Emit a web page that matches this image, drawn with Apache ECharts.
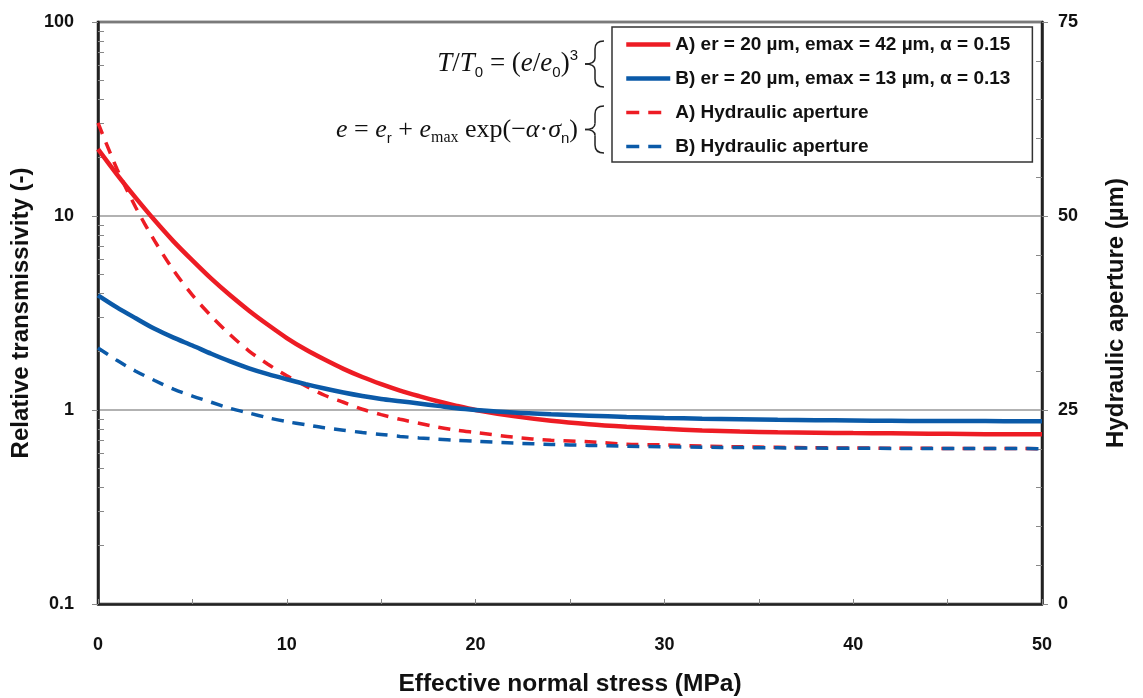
<!DOCTYPE html>
<html>
<head>
<meta charset="utf-8">
<script src="https://cdn.jsdelivr.net/npm/echarts@6/dist/echarts.min.js"></script>
<style>
html,body{margin:0;padding:0;background:#fff;}
#chart{width:1143px;height:698px;}
</style>
</head>
<body>
<div id="chart"></div>
<script>
// Effective normal stress (MPa)
const stress = [0,1,2,3,4,5,6,7,8,9,10,11,12,13,14,15,16,17,18,19,20,22,24,26,28,30,32,34,36,38,40,42,44,46,48,50];
// Relative transmissivity (-), left log axis
const transA = [22.1,16.4,12.4,9.5,7.4,5.9,4.75,3.9,3.25,2.75,2.35,2.05,1.82,1.63,1.48,1.36,1.26,1.18,1.11,1.05,1.0,0.93,0.88,0.845,0.82,0.80,0.785,0.775,0.768,0.764,0.76,0.758,0.755,0.752,0.75,0.75];
const transB = [3.9,3.38,2.97,2.62,2.36,2.15,1.95,1.78,1.64,1.53,1.44,1.36,1.29,1.23,1.18,1.14,1.11,1.08,1.05,1.02,1.0,0.97,0.95,0.935,0.92,0.91,0.902,0.896,0.89,0.886,0.883,0.88,0.878,0.877,0.876,0.875];
// Hydraulic aperture (µm), right axis
const apertureA = [62.0,56.1,51.1,46.8,43.0,39.8,37.1,34.7,32.6,30.9,29.4,28.1,26.9,26.0,25.1,24.4,23.8,23.3,22.8,22.4,22.1,21.5,21.1,20.9,20.6,20.5,20.35,20.26,20.19,20.14,20.1,20.08,20.06,20.04,20.03,20.02];
const apertureB = [33.0,31.4,30.0,28.8,27.7,26.8,26.0,25.2,24.6,24.0,23.5,23.1,22.7,22.4,22.1,21.85,21.6,21.4,21.25,21.1,20.97,20.74,20.57,20.44,20.34,20.26,20.2,20.16,20.12,20.09,20.07,20.05,20.04,20.03,20.03,20.02];
const seriesNames = ['A) er = 20 µm, emax = 42 µm, α = 0.15','B) er = 20 µm, emax = 13 µm, α = 0.13','A) Hydraulic aperture','B) Hydraulic aperture'];
const xTicks = [0,10,20,30,40,50];
const leftTicks = [0.1,1,10,100];
const leftMinor = [0.2,0.3,0.4,0.5,0.6,0.7,0.8,0.9,2,3,4,5,6,7,8,9,20,30,40,50,60,70,80,90];
const rightMinor = [5,10,15,20,30,35,40,45,55,60,65,70];

const RED = '#ed1c24', BLUE = '#0b5aa8';
const pair = arr => stress.map((x,i)=>[x,arr[i]]);
const chart = echarts.init(document.getElementById('chart'));
const axisLineStyle = {color:'#222', width:2.5};
const labelFont = {fontFamily:'Liberation Sans, Arial, sans-serif', fontWeight:'bold', fontSize:18, color:'#111'};
const nameFont = {fontFamily:'Liberation Sans, Arial, sans-serif', fontWeight:'bold', fontSize:24, color:'#111'};
const serif = 'Liberation Serif, Times New Roman, serif';
const sans = 'Liberation Sans, Arial, sans-serif';

// curly brace "{" built from quadratic curves; xr = right end, xm = spine, xt = tip, y0..y1
function brace(xr, xm, xt, y0, y1){
  const ym = (y0+y1)/2, st = {stroke:'#222', lineWidth:1.5, fill:null};
  const q = (x1,y1_,cx,cy,x2,y2) => ({type:'bezierCurve', shape:{x1:x1,y1:y1_,cpx1:cx,cpy1:cy,x2:x2,y2:y2}, style:st, silent:true});
  const l = (x1,y1_,x2,y2) => ({type:'line', shape:{x1:x1,y1:y1_,x2:x2,y2:y2}, style:st, silent:true});
  return [
    q(xr,y0, xm,y0, xm,y0+8),
    l(xm,y0+8, xm,ym-6),
    q(xm,ym-6, xm,ym, xt,ym),
    q(xt,ym, xm,ym, xm,ym+6),
    l(xm,ym+6, xm,y1-8),
    q(xm,y1-8, xm,y1, xr,y1)
  ];
}

chart.setOption({
  animation:false,
  backgroundColor:'#fff',
  grid:{left:98,right:101,top:22,bottom:94,outerBoundsMode:'none',containLabel:false,show:true,borderColor:'#222',borderWidth:2.5,backgroundColor:'transparent'},
  legend:{
    orient:'vertical', left:612, top:27,
    data:[
      {name:seriesNames[0], lineStyle:{width:4.5}},
      {name:seriesNames[1], lineStyle:{width:4.5}},
      {name:seriesNames[2], lineStyle:{width:3.5, type:[13,9]}},
      {name:seriesNames[3], lineStyle:{width:3.5, type:[13,9]}}
    ],
    itemWidth:44, itemHeight:14, itemGap:15,
    padding:[8,22,6,12],
    backgroundColor:'#fff', borderColor:'#333', borderWidth:1.5,
    itemStyle:{opacity:0},
    textStyle:{fontFamily:sans, fontSize:19, fontWeight:'bold', color:'#111'}
  },
  xAxis:{
    type:'value', min:0, max:50, interval:10,
    axisLine:{lineStyle:axisLineStyle},
    axisTick:{inside:true, length:5, lineStyle:{color:'#888', width:1}},
    minorTick:{show:true, splitNumber:2, length:5, lineStyle:{color:'#888', width:1}},
    splitLine:{show:false},
    axisLabel:{...labelFont, margin:32, formatter:v=>xTicks.includes(v)?String(v):''},
    name:'Effective normal stress (MPa)', nameLocation:'middle', nameGap:68,
    nameTextStyle:{...nameFont, fontSize:24.5}
  },
  yAxis:[
    {
      type:'log', logBase:10, min:0.1, max:100, position:'left',
      axisLine:{show:true, lineStyle:axisLineStyle},
      axisTick:{show:true, length:6, lineStyle:{color:'#888', width:1}},
      splitLine:{show:true, lineStyle:{color:'#999', width:1.5}},
      axisLabel:{...labelFont, margin:24, formatter:v=>{const t=leftTicks.find(k=>Math.abs(k-v)/k<1e-6);return t===undefined?'':String(t);}},
      name:'Relative transmissivity (-)', nameLocation:'middle', nameGap:64,
      nameTextStyle:nameFont
    },
    {
      type:'log', logBase:10, min:0.1, max:100, position:'left',
      axisLine:{show:false}, splitLine:{show:false}, axisLabel:{show:false},
      axisTick:{show:true, inside:true, length:6, customValues:leftMinor, lineStyle:{color:'#888', width:1}}
    },
    {
      type:'value', min:0, max:75, interval:25, position:'right',
      axisLine:{show:true, lineStyle:axisLineStyle},
      axisTick:{show:true, length:6, lineStyle:{color:'#888', width:1}},
      splitLine:{show:false},
      axisLabel:{...labelFont, margin:16},
      name:'Hydraulic aperture (µm)', nameLocation:'middle', nameGap:62,
      nameTextStyle:nameFont
    },
    {
      type:'value', min:0, max:75, position:'right',
      axisLine:{show:false}, splitLine:{show:false}, axisLabel:{show:false},
      axisTick:{show:true, inside:true, length:6, customValues:rightMinor, lineStyle:{color:'#888', width:1}}
    }
  ],
  series:[
    {name:seriesNames[0], type:'line', yAxisIndex:0, data:pair(transA), symbol:'none', smooth:0.3, lineStyle:{color:RED, width:4.5}, itemStyle:{color:RED}, z:3},
    {name:seriesNames[1], type:'line', yAxisIndex:0, data:pair(transB), symbol:'none', smooth:0.3, lineStyle:{color:BLUE, width:4.5}, itemStyle:{color:BLUE}, z:4},
    {name:seriesNames[2], type:'line', yAxisIndex:2, data:pair(apertureA), symbol:'none', smooth:0.3, lineStyle:{color:RED, width:3.5, type:[12,9]}, itemStyle:{color:RED}, z:2},
    {name:seriesNames[3], type:'line', yAxisIndex:2, data:pair(apertureB), symbol:'none', smooth:0.3, lineStyle:{color:BLUE, width:3.5, type:[12,9]}, itemStyle:{color:BLUE}, z:2}
  ],
  graphic:[
    {type:'text', x:578, y:64, style:{
      text:'{i|T}{n|/}{i|T}{s|0}{n| = (}{i|e}{n|/}{i|e}{s|0}{n|)}{p|3}',
      align:'right', verticalAlign:'middle',
      rich:{
        i:{fontFamily:serif, fontStyle:'italic', fontSize:27, lineHeight:32, fill:'#111'},
        n:{fontFamily:serif, fontSize:27, lineHeight:32, fill:'#111'},
        s:{fontFamily:sans, fontSize:15, lineHeight:32, verticalAlign:'bottom', fill:'#111'},
        p:{fontFamily:sans, fontSize:15, lineHeight:32, verticalAlign:'top', fill:'#111'}
      }}},
    {type:'text', x:578, y:130, style:{
      text:'{i|e}{n| = }{i|e}{s|r}{n| + }{i|e}{m|max}{n| exp(−}{i|α}{n|·}{i|σ}{s|n}{n|)}',
      align:'right', verticalAlign:'middle',
      rich:{
        i:{fontFamily:serif, fontStyle:'italic', fontSize:26, lineHeight:32, fill:'#111'},
        n:{fontFamily:serif, fontSize:26, lineHeight:32, fill:'#111'},
        s:{fontFamily:sans, fontSize:15, lineHeight:32, verticalAlign:'bottom', fill:'#111'},
        m:{fontFamily:serif, fontSize:16, lineHeight:32, verticalAlign:'bottom', fill:'#111'}
      }}},
    ...brace(604, 595, 585, 41, 87),
    ...brace(604, 595, 585, 106, 153)
  ]
});
</script>
</body>
</html>
